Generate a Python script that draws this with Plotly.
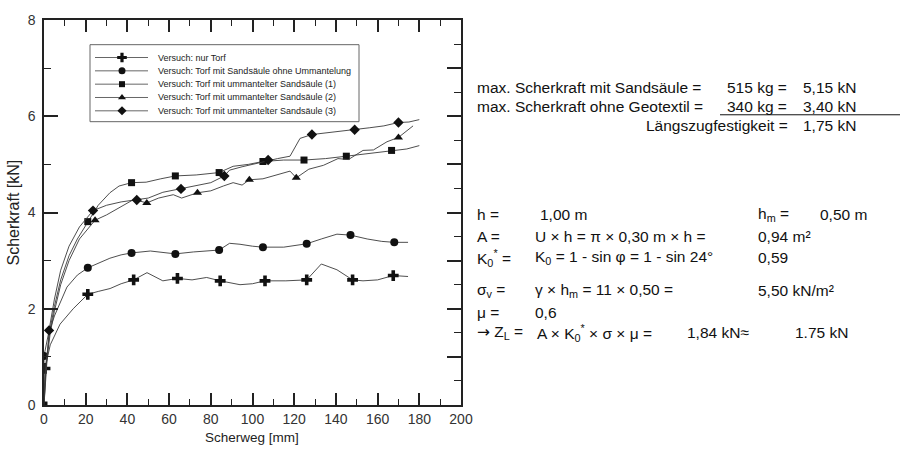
import plotly.graph_objects as go

# ---------------- data ----------------
torf_x = [0, 0.5, 3, 7.7, 14, 21, 26, 31.7, 37, 43, 49.4, 57, 64, 71, 78, 84.5, 94, 100, 106, 116, 126, 133, 140.5, 148, 153, 160, 167.5, 174.6]
torf_y = [0, 0.76, 1.25, 1.68, 2.0, 2.3, 2.36, 2.42, 2.52, 2.6, 2.75, 2.58, 2.63, 2.6, 2.65, 2.58, 2.5, 2.52, 2.58, 2.58, 2.6, 2.93, 2.81, 2.6, 2.58, 2.6, 2.69, 2.67]
torf_mk = [1, 5, 9, 12, 15, 18, 20, 23, 26]

ohne_x = [0, 0, 2, 5, 11, 16, 21, 26, 31.6, 37, 42, 51, 57, 63, 71.6, 78, 84, 89, 94, 100, 105, 115, 126, 133, 140.5, 147, 155, 162, 168, 174.6]
ohne_y = [0, 1.02, 1.45, 1.85, 2.45, 2.7, 2.85, 2.95, 3.05, 3.12, 3.16, 3.2, 3.17, 3.14, 3.18, 3.2, 3.22, 3.36, 3.34, 3.3, 3.28, 3.28, 3.35, 3.45, 3.55, 3.53, 3.45, 3.4, 3.38, 3.38]
ohne_mk = [1, 6, 10, 13, 16, 20, 22, 25, 28]

um1_x = [0, 1, 3, 5, 8, 12, 16, 21, 26, 31.6, 36, 42, 49, 56, 63, 73, 84, 90.7, 98, 105, 115, 124.7, 135, 145, 155, 166.7, 174, 180]
um1_y = [0, 0.9, 1.6, 2.05, 2.6, 3.1, 3.45, 3.81, 4.15, 4.41, 4.55, 4.62, 4.63, 4.7, 4.76, 4.78, 4.83, 4.96, 5.0, 5.06, 5.09, 5.09, 5.12, 5.17, 5.22, 5.29, 5.32, 5.39]
um1_mk = [0, 7, 11, 14, 16, 19, 21, 23, 25]

um2_x = [0, 1, 3, 5, 8, 12, 17, 24.5, 30, 36, 43, 49.3, 55, 62, 66, 73.6, 80, 86, 90.7, 95, 98.5, 105, 112, 118, 121, 127, 134, 141, 146, 153, 158, 164.5, 170, 174, 177]
um2_y = [0, 0.8, 1.5, 1.95, 2.5, 3.0, 3.45, 3.84, 3.95, 4.1, 4.27, 4.2, 4.3, 4.37, 4.3, 4.41, 4.45, 4.55, 4.62, 4.57, 4.68, 4.7, 4.78, 4.86, 4.72, 4.9, 4.98, 5.12, 5.1, 5.29, 5.3, 5.47, 5.56, 5.7, 5.8]
um2_mk = [0, 7, 11, 15, 20, 24, 32]

um3_x = [0, 2.4, 5, 8, 12, 17, 23.5, 30, 37, 44.5, 50, 57, 65.7, 72, 80, 86.5, 89, 95, 100, 107.5, 112, 118, 122.8, 128.5, 135, 142, 149, 156, 163, 170, 175, 180]
um3_y = [0, 1.55, 2.2, 2.8, 3.3, 3.7, 4.04, 4.15, 4.22, 4.26, 4.3, 4.42, 4.49, 4.55, 4.62, 4.76, 4.88, 4.95, 5.0, 5.09, 5.12, 5.17, 5.54, 5.62, 5.65, 5.68, 5.72, 5.76, 5.8, 5.87, 5.88, 5.93]
um3_mk = [1, 6, 9, 12, 15, 19, 23, 26, 29]

series_names = [
    "Versuch: nur Torf",
    "Versuch: Torf mit Sandsäule ohne Ummantelung",
    "Versuch: Torf mit ummantelter Sandsäule (1)",
    "Versuch: Torf mit ummantelter Sandsäule (2)",
    "Versuch: Torf mit ummantelter Sandsäule (3)",
]
series_symbols = ["cross", "circle", "square", "triangle-up", "diamond"]
series_sizes = [9, 8, 7, 8, 8]

x_label = "Scherweg [mm]"
y_label = "Scherkraft [kN]"

FONT = "Liberation Sans, Arial, Helvetica, sans-serif"
LINE_C = "#3a3a3a"
AX_C = "#222222"

# plot area in pixels
L, R, T, B = 44, 461, 15, 405
W, H = 909, 450

def pxx(p):
    return (p - L) / (R - L)

def pxy(p):
    return (B - p) / (B - T)

fig = go.Figure()

all_series = [
    (torf_x, torf_y, torf_mk),
    (ohne_x, ohne_y, ohne_mk),
    (um1_x, um1_y, um1_mk),
    (um2_x, um2_y, um2_mk),
    (um3_x, um3_y, um3_mk),
]

for (xs, ys, mk), name, sym, sz in zip(all_series, series_names, series_symbols, series_sizes):
    fig.add_trace(go.Scatter(x=xs, y=ys, mode="lines", line=dict(color=LINE_C, width=0.9),
                             showlegend=False, hoverinfo="skip"))
    fig.add_trace(go.Scatter(x=[xs[i] for i in mk], y=[ys[i] for i in mk], mode="markers",
                             marker=dict(symbol=sym, size=sz, color="#111111", line=dict(width=0)),
                             name=name, showlegend=False))

# right axis carrier (empty)
fig.add_trace(go.Scatter(x=[None], y=[None], xaxis="x", yaxis="y2", showlegend=False, hoverinfo="skip"))

# ---------------- manual legend on a pixel-scaled overlay ----------------
leg_rows = [53, 66.5, 80, 93.5, 107]
leg_x0, leg_x1, leg_xm, leg_tx = 95, 148, 122, 156
for row_y, name, sym, sz in zip(leg_rows, series_names, series_symbols, series_sizes):
    fig.add_trace(go.Scatter(x=[leg_x0, leg_x1], y=[row_y, row_y], mode="lines",
                             line=dict(color="#555555", width=0.9), xaxis="x2", yaxis="y3",
                             showlegend=False, hoverinfo="skip"))
    fig.add_trace(go.Scatter(x=[leg_xm], y=[row_y], mode="markers",
                             marker=dict(symbol=sym, size=sz - 1, color="#111111", line=dict(width=0)),
                             xaxis="x2", yaxis="y3", showlegend=False, hoverinfo="skip"))
    fig.add_annotation(x=leg_tx, y=row_y, xref="x2", yref="y3", text=name, showarrow=False,
                       xanchor="left", yanchor="middle", font=dict(size=9.0, color="#222222", family=FONT))

shapes = [dict(type="rect", xref="x2", yref="y3", x0=90, x1=359, y0=40, y1=118,
               line=dict(color="#666666", width=1), fillcolor="rgba(0,0,0,0)")]

# ---------------- right-hand text ----------------
TXT = 15.5
def txt(px, py, s, anchor="left"):
    fig.add_annotation(x=pxx(px), y=pxy(py), xref="paper", yref="paper", text=s, showarrow=False,
                       xanchor=anchor, yanchor="middle", font=dict(size=TXT, color="#111111", family=FONT))

txt(475, 83, "max. Scherkraft mit Sandsäule =")
txt(725, 83, "515 kg =")
txt(801, 83, "5,15 kN")
txt(475, 103, "max. Scherkraft ohne Geotextil =")
txt(725, 103, "340 kg =")
txt(801, 103, "3,40 kN")
txt(790, 122, "Längszugfestigkeit =", anchor="right")
txt(801, 122, "1,75 kN")
shapes.append(dict(type="line", xref="paper", yref="paper", x0=pxx(720), x1=pxx(900),
                   y0=pxy(111), y1=pxy(111), line=dict(color="#111111", width=1)))

txt(475, 212, "h =")
txt(538, 212, "1,00 m")
txt(756, 212, "h<sub>m</sub> =")
txt(818, 212, "0,50 m")
txt(475, 234, "A =")
txt(533, 234, "U × h = π × 0,30 m × h =")
txt(756, 234, "0,94 m²")
txt(475, 256, "K<sub>0</sub><sup>*</sup> =")
txt(533, 256, "K<sub>0</sub> = 1 - sin φ = 1 - sin 24°")
txt(756, 256, "0,59")
txt(475, 289, "σ<sub>v</sub> =")
txt(533, 289, "γ × h<sub>m</sub> = 11 × 0,50 =")
txt(756, 289, "5,50 kN/m²")
txt(475, 311, "μ =")
txt(533, 311, "0,6")
txt(475, 332, "<span style='font-family:DejaVu Sans'>→</span> Z<sub>L</sub> =")
txt(535, 332, "A × K<sub>0</sub><sup>*</sup> × σ × μ =")
txt(685, 332, "1,84 kN≈")
txt(793, 332, "1.75 kN")

# axis titles
fig.add_annotation(x=pxx(252), y=pxy(438), xref="paper", yref="paper", text=x_label, showarrow=False,
                   xanchor="center", yanchor="middle", font=dict(size=13.5, color="#222222", family=FONT))
fig.add_annotation(x=pxx(13), y=pxy(210), xref="paper", yref="paper", text=y_label, showarrow=False,
                   textangle=-90, xanchor="center", yanchor="middle",
                   font=dict(size=16, color="#222222", family=FONT))

fig.update_layout(
    width=W, height=H,
    margin=dict(l=L, r=W - R, t=T, b=H - B, pad=0),
    paper_bgcolor="white", plot_bgcolor="white",
    font=dict(family=FONT, color="#222222"),
    showlegend=False,
    shapes=shapes,
    xaxis=dict(range=[0, 200], dtick=20, tick0=0, ticks="inside", ticklen=12, tickwidth=1.5,
               tickcolor=AX_C, showline=True, linecolor=AX_C, linewidth=1.5, mirror="ticks",
               showgrid=False, zeroline=False, tickfont=dict(size=14, color="#333333"),
               minor=dict(dtick=10, ticks="inside", ticklen=6, tickwidth=1.2, tickcolor=AX_C),
               fixedrange=True),
    yaxis=dict(range=[0, 8], dtick=2, tick0=0, ticks="inside", ticklen=14, tickwidth=1.5,
               tickcolor=AX_C, showline=True, linecolor=AX_C, linewidth=1.5,
               showgrid=False, zeroline=False, tickfont=dict(size=14, color="#333333"),
               minor=dict(dtick=1, ticks="inside", ticklen=7, tickwidth=1.2, tickcolor=AX_C),
               ticklabelstandoff=4, fixedrange=True),
    yaxis2=dict(range=[0, 8], overlaying="y", side="right", anchor="x", dtick=1, tick0=0,
                ticks="inside", ticklen=14, tickwidth=1.5, tickcolor=AX_C, showline=True,
                linecolor=AX_C, linewidth=1.5, showgrid=False, zeroline=False,
                showticklabels=False,
                minor=dict(dtick=0.5, ticks="inside", ticklen=7, tickwidth=1.2, tickcolor=AX_C),
                fixedrange=True),
    xaxis2=dict(range=[L, R], overlaying="x", visible=False, fixedrange=True),
    yaxis3=dict(range=[B, T], overlaying="y", visible=False, fixedrange=True),
)

fig.write_html("out.html")
